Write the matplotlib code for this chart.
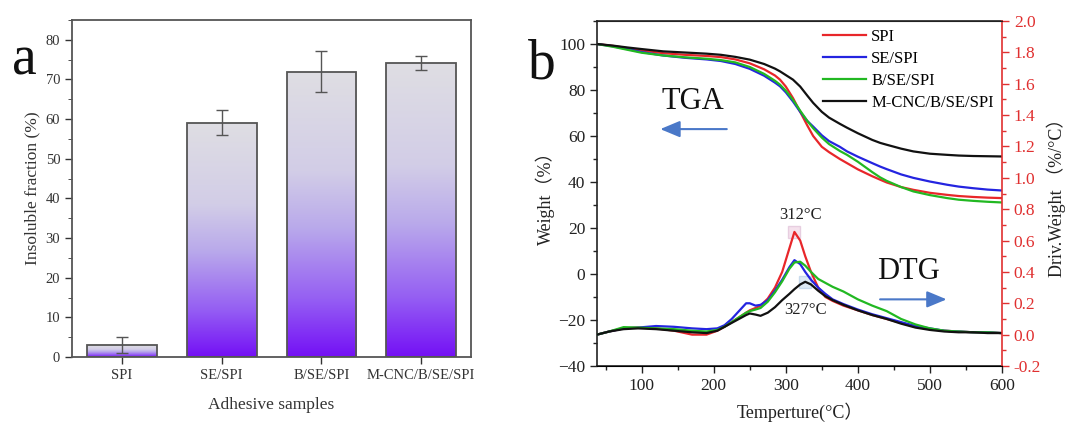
import numpy as np
import matplotlib
matplotlib.use("Agg")
import matplotlib.pyplot as plt
from matplotlib.colors import LinearSegmentedColormap
from matplotlib.ticker import MultipleLocator

# ---------------- data ----------------
samples = ["SPI", "SE/SPI", "B/SE/SPI", "M-CNC/B/SE/SPI"]
insoluble = [3.0, 59.1, 72.0, 74.2]
insoluble_err = [2.0, 3.1, 5.1, 1.8]

tga_T = [38, 60, 80, 100, 130, 160, 190, 210, 230, 250, 270, 285, 292, 300, 310, 320,
         330, 338, 350, 360, 375, 385, 400, 420, 431, 440, 460, 477, 500, 524, 540, 560, 580, 600]
tga_spi = [100, 99.2, 98.2, 97.2, 96.0, 95.3, 94.8, 94.3, 93.3, 91.6, 89.0, 86.3, 84.5, 81.5, 76.5, 70.5,
           64.5, 60.0, 55.3, 53.0, 50.0, 48.2, 45.5, 42.5, 41.0, 39.8, 37.8, 36.6, 35.3, 34.4, 33.9, 33.5, 33.2, 33.0]
tga_se = [100, 99.0, 97.8, 96.5, 95.0, 94.0, 93.3, 92.6, 91.3, 89.2, 86.2, 83.2, 81.6, 79.0, 75.0, 70.5,
          66.5, 64.1, 60.3, 57.8, 55.3, 53.3, 51.0, 48.2, 46.7, 45.6, 43.3, 41.8, 40.2, 38.8, 38.0, 37.3, 36.7, 36.3]
tga_b = [100, 98.8, 97.5, 96.2, 95.0, 94.2, 93.6, 93.0, 92.0, 90.0, 87.0, 84.0, 82.3, 79.7, 75.7, 71.0,
         66.5, 63.4, 59.3, 56.5, 53.5, 51.8, 48.8, 44.3, 42.0, 40.5, 37.8, 35.9, 34.3, 33.0, 32.3, 31.8, 31.4, 31.1]
tga_m = [100, 99.3, 98.5, 97.8, 96.8, 96.3, 95.8, 95.3, 94.4, 93.2, 91.3, 89.3, 88.1, 86.5, 84.5, 81.5,
         77.5, 74.4, 70.5, 68.0, 65.3, 63.6, 61.2, 58.3, 57.0, 56.2, 54.5, 53.3, 52.3, 51.8, 51.5, 51.3, 51.2, 51.1]

dtg_T = [38, 55, 75, 95, 120, 145, 170, 190, 205, 215, 225, 235, 245, 250, 258, 265, 275, 285, 295,
         305, 312, 320, 327, 335, 345, 355, 365, 380, 400, 420, 440, 460, 480, 500, 520, 540, 560, 580, 600]
dtg_spi = [0.0, 0.02, 0.04, 0.045, 0.04, 0.025, 0.0, 0.0, 0.025, 0.05, 0.08, 0.11, 0.14, 0.155, 0.17, 0.185,
           0.23, 0.30, 0.40, 0.55, 0.655, 0.60, 0.50, 0.40, 0.30, 0.24, 0.215, 0.185, 0.155, 0.125, 0.10,
           0.075, 0.05, 0.035, 0.025, 0.02, 0.015, 0.015, 0.01]
dtg_se = [0.0, 0.02, 0.04, 0.045, 0.055, 0.05, 0.04, 0.035, 0.04, 0.06, 0.10, 0.15, 0.20, 0.20, 0.185, 0.19,
          0.22, 0.28, 0.35, 0.43, 0.475, 0.45, 0.40, 0.35, 0.30, 0.26, 0.225, 0.195, 0.16, 0.13, 0.105,
          0.08, 0.055, 0.04, 0.025, 0.02, 0.015, 0.015, 0.01]
dtg_b = [0.0, 0.02, 0.048, 0.045, 0.04, 0.035, 0.025, 0.02, 0.03, 0.05, 0.08, 0.11, 0.14, 0.15, 0.16, 0.17,
         0.21, 0.27, 0.34, 0.42, 0.46, 0.465, 0.44, 0.40, 0.355, 0.33, 0.305, 0.275, 0.225, 0.185, 0.15,
         0.10, 0.065, 0.04, 0.025, 0.02, 0.015, 0.015, 0.01]
dtg_m = [0.0, 0.02, 0.035, 0.04, 0.035, 0.025, 0.015, 0.01, 0.025, 0.05, 0.075, 0.10, 0.125, 0.135, 0.128, 0.12,
         0.14, 0.175, 0.22, 0.26, 0.29, 0.32, 0.337, 0.32, 0.28, 0.245, 0.22, 0.19, 0.155, 0.125, 0.10,
         0.07, 0.045, 0.03, 0.02, 0.015, 0.015, 0.01, 0.01]

series_names = ["SPI", "SE/SPI", "B/SE/SPI", "M-CNC/B/SE/SPI"]
series_colors = ["#e8262a", "#2424e0", "#22b822", "#111111"]
peak_T = [312, 327]
peak_val = [0.655, 0.337]

# ---------------- style ----------------
SERIF = ["Liberation Serif", "DejaVu Serif"]
SERIF_CJK = ["Liberation Serif", "Noto Sans CJK SC", "DejaVu Sans"]
plt.rcParams["font.family"] = SERIF
plt.rcParams["mathtext.fontset"] = "stix"

fig = plt.figure(figsize=(10.83, 4.25), dpi=100)

# ---------------- panel a ----------------
axa = fig.add_axes([0.0665, 0.16, 0.3685, 0.793])
x = np.arange(len(samples))
bars = axa.bar(x, insoluble, width=0.7, facecolor="none", edgecolor="#555555", linewidth=1.3, zorder=3)
cmap = LinearSegmentedColormap.from_list(
    "grad", [(0.0, "#7410f5"), (0.2, "#955ef3"), (0.45, "#b9a9eb"), (0.65, "#d2cde7"), (1.0, "#dfdee3")])
grad = np.linspace(0, 1, 256).reshape(-1, 1)
for b in bars:
    x0, y0 = b.get_x(), b.get_y()
    w, h = b.get_width(), b.get_height()
    im = axa.imshow(grad, cmap=cmap, origin="lower", aspect="auto",
                    extent=[x0, x0 + w, y0, y0 + h], zorder=2)
    im.set_clip_path(b)
axa.errorbar(x, insoluble, yerr=insoluble_err, fmt="none", ecolor="#555555",
             elinewidth=1.0, capsize=4, capthick=1.0, zorder=4)
axa.set_xlim(-0.5, 3.5)
axa.set_ylim(0, 85)
axa.set_xticks(x)
axa.set_xticklabels(samples, fontsize=10.5)
axa.yaxis.set_major_locator(MultipleLocator(10))
axa.yaxis.set_minor_locator(MultipleLocator(5))
axa.tick_params(axis="both", direction="out", labelsize=10.5, colors="#333333", width=1.0, length=5)
axa.tick_params(axis="y", which="minor", direction="out", length=3, color="#333333")
for s in axa.spines.values():
    s.set_color("#555555")
    s.set_linewidth(1.3)
axa.set_ylabel("Insoluble fraction (%)", fontsize=12.5, color="#333333")
axa.set_xlabel("Adhesive samples", fontsize=12.5, color="#333333", labelpad=11)
fig.text(0.011, 0.824, "a", fontsize=40, color="#111111")

# ---------------- panel b ----------------
axb = fig.add_axes([0.5512, 0.1388, 0.374, 0.8118])
axr = axb.twinx()
tga_all = [tga_spi, tga_se, tga_b, tga_m]
dtg_all = [dtg_spi, dtg_se, dtg_b, dtg_m]
lines = []
for name, col, tg in zip(series_names, series_colors, tga_all):
    ln, = axb.plot(tga_T, tg, color=col, lw=1.6, label=name)
    lines.append(ln)
for col, dg in zip(series_colors, dtg_all):
    axr.plot(dtg_T, dg, color=col, lw=1.6)
axr.plot(peak_T[0], peak_val[0], marker="s", ms=9, mfc="#f2d6e6", mec="#e0c0d8", alpha=0.7, zorder=1)
axr.plot(peak_T[1], peak_val[1], marker="s", ms=8, mfc="#cfe0f0", mec="#b8d0e8", alpha=0.7, zorder=1)

axb.set_xlim(38, 600)
axb.set_ylim(-40, 110)
axr.set_ylim(-0.2, 2.0)
axb.xaxis.set_major_locator(MultipleLocator(100))
axb.xaxis.set_minor_locator(MultipleLocator(50))
axb.yaxis.set_major_locator(MultipleLocator(20))
axb.yaxis.set_minor_locator(MultipleLocator(10))
axr.yaxis.set_minor_locator(MultipleLocator(0.1))
rticks = np.round(np.arange(-0.2, 2.01, 0.2), 1)
axr.set_yticks(rticks)
axr.set_yticklabels([f"{v:.1f}" for v in rticks])
axb.tick_params(axis="both", which="major", direction="out", labelsize=12.5, length=5, width=1.0, colors="#222222")
axb.tick_params(axis="both", which="minor", direction="out", length=3, width=1.0, colors="#222222")
axr.tick_params(axis="y", which="major", direction="out", labelsize=12.5, length=5, width=1.0,
                colors="#e03030")
axr.tick_params(axis="y", which="minor", direction="out", length=3, width=1.0, colors="#e03030")
for s in ["left", "bottom", "top"]:
    axb.spines[s].set_color("#222222")
    axb.spines[s].set_linewidth(1.2)
axr.spines["right"].set_color("#e03030")
axr.spines["right"].set_linewidth(1.2)
axr.spines["top"].set_color("#222222")
axr.spines["left"].set_visible(False)
axb.spines["right"].set_visible(False)

axb.set_xlabel("Temperture(°C）", fontsize=13, family=SERIF_CJK, color="#222222", labelpad=6)
axb.set_ylabel("Weight（%）", fontsize=13, family=SERIF_CJK, color="#222222", labelpad=2)
axr.set_ylabel("Driv.Weight （%/°C）", fontsize=13, family=SERIF_CJK, color="#222222", labelpad=4)

axb.text(171, 75, "TGA", fontsize=22, ha="center", va="center", color="#111111")
axb.annotate("", xy=(122, 63), xytext=(222, 63),
             arrowprops=dict(arrowstyle="-|>,head_length=1.2,head_width=0.5", color="#4a78c8", lw=1.5))
axr.text(470, 0.40, "DTG", fontsize=22, ha="center", va="center", color="#111111")
axr.annotate("", xy=(527, 0.225), xytext=(427, 0.225),
             arrowprops=dict(arrowstyle="-|>,head_length=1.2,head_width=0.5", color="#4a78c8", lw=1.5))
axr.text(320, 0.76, "312°C", fontsize=12, ha="center", va="center", color="#222222")
axr.text(328, 0.16, "327°C", fontsize=12, ha="center", va="center", color="#222222")

leg = axb.legend(handles=lines, loc="upper right", bbox_to_anchor=(1.0, 1.0), frameon=False,
                 fontsize=12, handlelength=2.6, handletextpad=0.3, labelspacing=0.35, borderaxespad=0.1)
fig.text(0.4875, 0.816, "b", fontsize=40, color="#111111")

fig.savefig("out.png", dpi=100)
